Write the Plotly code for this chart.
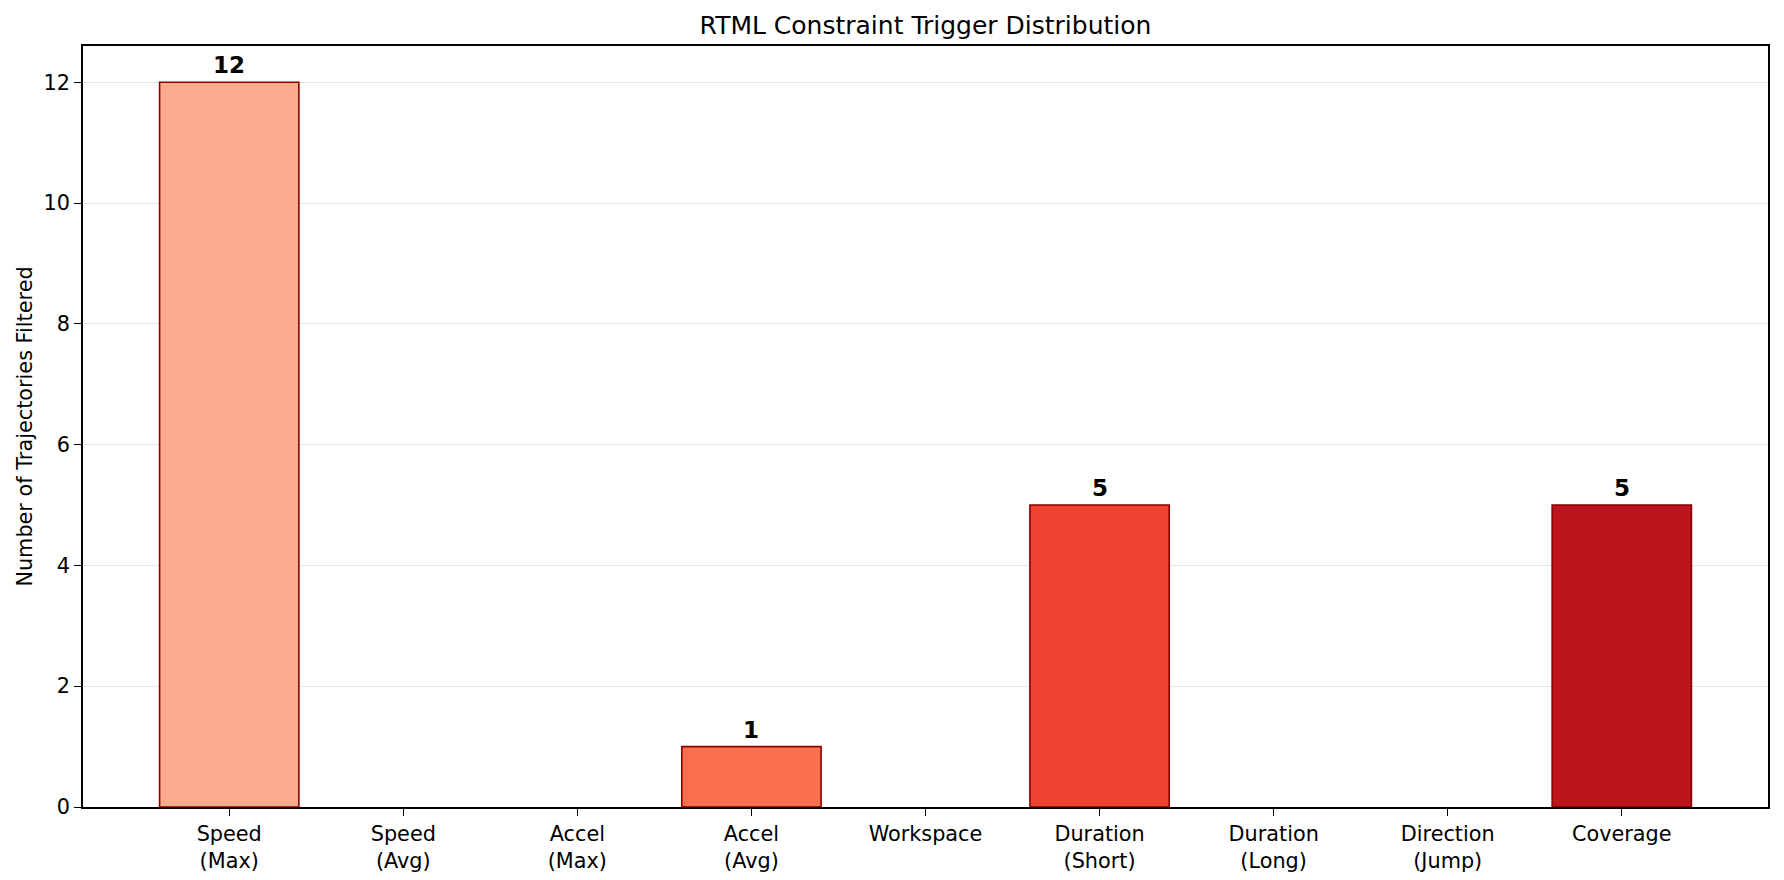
import plotly.graph_objects as go

categories = ["Speed<br>(Max)", "Speed<br>(Avg)", "Accel<br>(Max)", "Accel<br>(Avg)", "Workspace",
              "Duration<br>(Short)", "Duration<br>(Long)", "Direction<br>(Jump)", "Coverage"]
counts = [12, 0, 0, 1, 0, 5, 0, 0, 5]
colors = ["#fcaa8e", "#fc9b7c", "#fc8a6a", "#fb6e4e", "#f6563d",
          "#f04230", "#e12f27", "#cf1e20", "#bd151d"]

x_idx = list(range(len(categories)))
edge_widths = [1.6 if v > 0 else 0 for v in counts]

fig = go.Figure()
fig.add_trace(go.Bar(
    x=x_idx, y=counts, width=0.8,
    marker=dict(color=colors, line=dict(color="#8b0000", width=edge_widths)),
    showlegend=False,
))

for i, v in zip(x_idx, counts):
    if v > 0:
        fig.add_annotation(x=i, y=v, text=f"<b>{v}</b>", showarrow=False,
                           yanchor="bottom", yshift=2,
                           font=dict(size=23, color="black", family="DejaVu Sans"))

fig.update_layout(
    width=1784, height=880,
    margin=dict(l=83, r=16, t=46, b=73, autoexpand=False),
    paper_bgcolor="white", plot_bgcolor="white",
    font=dict(family="DejaVu Sans", size=20.8, color="black"),
    title=dict(text="RTML Constraint Trigger Distribution", x=0.5, xref="paper",
               xanchor="center", y=1 - 25 / 880, yanchor="middle",
               font=dict(size=25, color="black")),
    bargap=0.2,
)
fig.update_xaxes(
    range=[-0.84, 8.84], tickmode="array", tickvals=x_idx, ticktext=categories,
    showline=True, linecolor="black", linewidth=1.6, mirror=True,
    ticks="outside", ticklen=7, tickwidth=1.3, tickcolor="black",
    showgrid=False, zeroline=False, automargin=False,
)
fig.update_yaxes(
    range=[0, 12.6], tickvals=[0, 2, 4, 6, 8, 10, 12],
    showline=True, linecolor="black", linewidth=1.6, mirror=True,
    ticks="outside", ticklen=7, tickwidth=1.3, tickcolor="black",
    showgrid=True, gridcolor="rgba(176,176,176,0.3)", gridwidth=1.3,
    zeroline=False, automargin=False,
    title=dict(text="Number of Trajectories Filtered", font=dict(size=20.8), standoff=5),
)

fig.write_html("out.html")
